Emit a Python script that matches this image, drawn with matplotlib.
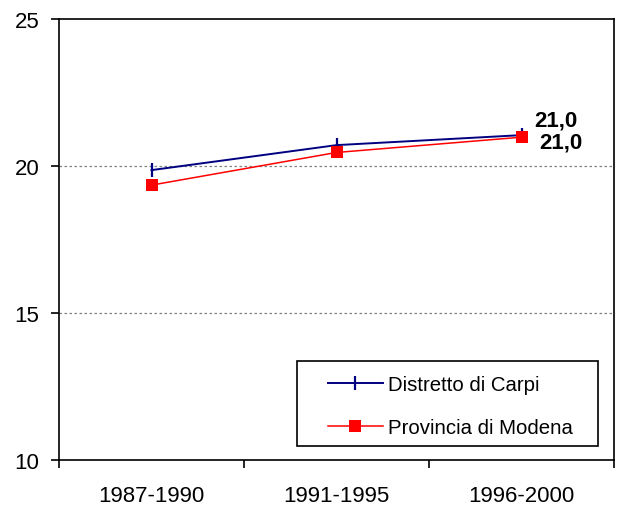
import matplotlib
matplotlib.use("Agg")
import matplotlib.pyplot as plt
from matplotlib.patches import Rectangle

plt.rcParams['font.family'] = ['Liberation Sans', 'DejaVu Sans']

categories = ["1987-1990", "1991-1995", "1996-2000"]
carpi = [19.86, 20.71, 21.05]
modena = [19.35, 20.46, 20.98]
carpi_label = "21,0"
modena_label = "21,0"

fig = plt.figure(figsize=(6.21, 5.10), dpi=100)
ax = fig.add_axes([59/621, 49/510, 555/621, 441/510])

x = list(range(len(categories)))
ax.plot(x, carpi, color='#000080', lw=1.4, marker='|', markersize=9.5,
        markeredgewidth=1.6, label='Distretto di Carpi', zorder=3)
ax.plot(x, modena, color='#FF0000', lw=1.1, marker='s', markersize=8,
        markeredgewidth=0, label='Provincia di Modena', zorder=3)

ax.annotate(carpi_label, (x[-1], carpi[-1]), xytext=(9.4, 11.0),
            textcoords='offset points', fontsize=16, fontweight='bold',
            va='center', ha='left')
ax.annotate(modena_label, (x[-1], modena[-1]), xytext=(13, -3.8),
            textcoords='offset points', fontsize=16, fontweight='bold',
            va='center', ha='left')

ax.set_xlim(-0.5, len(categories) - 0.5)
ax.set_ylim(10, 25)
ax.set_yticks([10, 15, 20, 25])
ax.set_xticks(x)
ax.set_xticklabels(categories)
ax.set_xticks([i - 0.5 for i in range(len(categories) + 1)], minor=True)
ax.tick_params(axis='x', which='major', length=0, pad=18, labelsize=16)
ax.tick_params(axis='x', which='minor', length=6, width=1.2, direction='out')
ax.tick_params(axis='y', length=6, width=1.2, pad=8, labelsize=16)

for yv in [15, 20]:
    ax.axhline(yv, color='#808080', lw=0.9, ls=(0, (2, 2)), zorder=1)

for s in ax.spines.values():
    s.set_linewidth(1.2)
    s.set_color('black')

rect = Rectangle((0.4296, 0.0317), 0.5415, 0.1928, transform=ax.transAxes,
                 fill=True, facecolor='white', edgecolor='black', lw=1.2, zorder=4)
ax.add_patch(rect)
leg = ax.legend(loc='upper left', bbox_to_anchor=(0.4296 + 31/555, 0.2245 - 14/441),
                frameon=False, fontsize=14.7, handlelength=2.65, handletextpad=0.25,
                labelspacing=1.2, borderpad=0, borderaxespad=0)
leg.set_zorder(5)

fig.savefig("out.png", dpi=100)
